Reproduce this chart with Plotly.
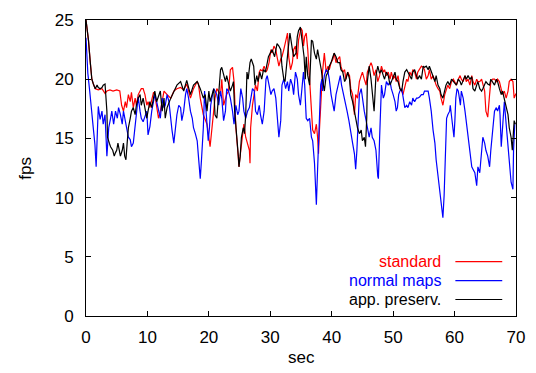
import plotly.graph_objects as go

# ---------------- data ----------------
t_standard = [
    0, 0.4, 0.7, 0.95, 1.2, 1.5, 2.0, 2.6, 3.1, 3.4,
    3.9, 4.4, 5.0, 5.5, 5.8, 6.1, 6.4, 6.6, 6.9, 7.2,
    7.4, 7.7, 8.0, 8.2, 8.5, 8.8, 9.0, 9.3, 9.6, 9.9,
    10.1, 10.4, 10.7, 11.0, 11.2, 11.5, 11.8, 12.1, 12.7, 13.2,
    13.8, 14.3, 14.8, 15.4, 15.9, 16.4, 17.0, 17.5, 18.1, 18.3,
    18.6, 19.1, 19.7, 20.2, 20.5, 20.8, 21.0, 21.3, 21.9, 22.1,
    22.4, 22.9, 23.2, 23.5, 23.85, 24.1, 24.2, 24.4, 24.7, 24.9,
    25.2, 25.5, 25.7, 26.0, 26.3, 26.6, 26.7, 26.8, 27.1, 27.4,
    27.6, 27.9, 28.2, 28.4, 28.7, 29.0, 29.3, 29.5, 29.8, 30.1,
    30.3, 30.6, 30.9, 31.1, 31.4, 31.7, 31.9, 32.2, 32.5, 32.8,
    33.0, 33.3, 33.6, 33.8, 34.1, 34.4, 34.6, 34.9, 35.0, 35.2,
    35.4, 35.6, 35.85, 36.1, 36.4, 36.7, 36.9, 37.2, 37.5, 37.7,
    37.85, 38.0, 38.3, 38.5, 38.8, 39.1, 39.4, 39.6, 39.9, 40.2,
    40.4, 40.7, 41.0, 41.3, 41.5, 41.8, 42.1, 42.3, 42.6, 42.9,
    43.1, 43.4, 43.7, 43.9, 44.2, 44.5, 44.8, 45.0, 45.3, 45.6,
    45.8, 46.1, 46.4, 46.6, 46.9, 47.2, 47.5, 47.8, 48.1, 48.4,
    48.6, 48.9, 49.2, 49.5, 49.7, 50.0, 50.3, 50.5, 50.8, 51.1,
    51.4, 51.6, 51.9, 52.2, 52.4, 52.7, 53.0, 53.2, 53.5, 53.8,
    54.0, 54.3, 54.6, 54.9, 55.1, 55.4, 55.7, 55.9, 56.2, 56.5,
    56.8, 57.0, 57.3, 57.6, 57.8, 58.1, 58.4, 58.6, 58.9, 59.2,
    59.5, 59.8, 60.05, 60.3, 60.6, 60.9, 61.1, 61.4, 61.7, 61.9,
    62.2, 62.5, 62.8, 63.0, 63.3, 63.6, 63.8, 64.1, 64.4, 64.6,
    64.9, 65.1, 65.4, 65.7, 65.9, 66.2, 66.5, 66.8, 67.0, 67.3,
    67.6, 67.8, 68.1, 68.4, 68.7, 68.9, 69.2, 69.5, 69.7, 70.0,
]
fps_standard = [
    25.0, 23.3, 21.4, 20.0, 19.6, 19.2, 19.1, 19.2, 18.8, 19.0,
    19.1, 19.0, 19.1, 19.0, 17.8, 17.3, 18.1, 17.6, 18.7, 18.1,
    18.9, 17.6, 18.4, 17.8, 18.7, 19.0, 19.2, 19.2, 18.7, 17.8,
    18.1, 17.6, 18.4, 18.9, 18.7, 17.8, 16.7, 17.3, 19.0, 18.7,
    18.4, 19.0, 19.2, 19.3, 19.1, 19.6, 18.4, 19.2, 19.8, 19.6,
    18.4, 17.0, 16.2, 14.3, 15.7, 17.3, 18.4, 19.2, 18.7, 20.0,
    17.8, 18.7, 19.0, 20.8, 21.0, 19.8, 18.4, 15.9, 14.0, 12.6,
    14.0, 15.7, 16.2, 15.1, 14.6, 14.0, 12.9, 15.9, 17.8, 18.7,
    19.5, 19.0, 20.6, 20.8, 20.7, 21.1, 20.6, 20.8, 21.4, 22.5,
    22.2, 22.8, 22.5, 21.9, 21.1, 21.7, 21.9, 22.5, 23.3, 23.9,
    21.9, 20.8, 21.4, 22.5, 22.8, 21.7, 23.3, 23.9, 24.3, 24.1,
    22.8, 23.6, 23.9, 22.5, 19.5, 17.6, 15.7, 15.4, 16.2, 15.1,
    13.7, 15.7, 18.7, 20.6, 22.2, 20.6, 21.1, 20.8, 21.4, 21.7,
    22.2, 21.4, 21.7, 21.9, 21.1, 20.6, 20.8, 20.0, 20.6, 20.3,
    19.2, 18.7, 17.0, 18.7, 18.4, 19.8, 20.3, 20.6, 20.0, 19.5,
    20.6, 21.1, 21.4, 21.1, 20.3, 20.8, 19.8, 20.3, 21.1, 20.6,
    20.8, 20.3, 20.6, 20.0, 20.6, 20.0, 20.3, 19.8, 20.3, 19.2,
    19.0, 18.7, 19.5, 20.0, 19.8, 20.6, 20.3, 20.8, 20.6, 20.0,
    20.6, 20.8, 21.1, 21.0, 20.8, 20.0, 20.3, 20.8, 20.0, 20.3,
    19.8, 19.5, 19.2, 19.0, 18.4, 17.8, 18.7, 19.0, 19.5, 19.2,
    19.8, 20.0, 19.8, 19.5, 20.0, 20.3, 20.0, 19.8, 20.3, 19.8,
    20.0, 19.5, 20.3, 19.8, 19.5, 20.0, 19.8, 19.8, 20.0, 19.5,
    19.0, 17.3, 16.8, 18.7, 19.8, 20.0, 20.0, 19.8, 20.0, 19.8,
    19.0, 18.7, 19.0, 18.4, 19.0, 19.8, 20.0, 19.8, 18.4, 18.8,
]

t_normal = [
    0, 0.3, 0.6, 0.9, 1.2, 1.45, 1.65, 1.85, 2.0, 2.3,
    2.6, 2.8, 3.1, 3.4, 3.7, 4.0, 4.2, 4.5, 4.8, 5.1,
    5.3, 5.6, 5.9, 6.1, 6.4, 6.6, 6.9, 7.2, 7.4, 7.7,
    8.0, 8.2, 8.5, 8.8, 9.0, 9.3, 9.6, 9.9, 10.1, 10.4,
    10.7, 11.0, 11.2, 11.5, 11.9, 12.1, 12.4, 12.7, 12.9, 13.2,
    13.5, 13.8, 14.0, 14.3, 14.6, 14.8, 15.1, 15.4, 15.6, 15.9,
    16.2, 16.4, 16.7, 17.0, 17.3, 17.5, 17.8, 18.1, 18.3, 18.6,
    18.8, 19.1, 19.3, 19.5, 19.7, 19.9, 20.1, 20.3, 20.6, 20.8,
    21.0, 21.3, 21.6, 21.9, 22.1, 22.4, 22.7, 22.9, 23.2, 23.5,
    23.85, 24.1, 24.4, 24.7, 24.9, 25.2, 25.5, 25.7, 26.0, 26.3,
    26.6, 26.8, 27.1, 27.4, 27.6, 27.9, 28.2, 28.4, 28.7, 29.0,
    29.3, 29.5, 29.8, 30.1, 30.3, 30.6, 30.9, 31.1, 31.4, 31.7,
    31.9, 32.2, 32.5, 32.8, 33.0, 33.3, 33.6, 33.8, 34.1, 34.4,
    34.6, 34.9, 35.2, 35.4, 35.6, 35.85, 36.1, 36.4, 36.7, 36.9,
    37.2, 37.35, 37.5, 37.7, 38.0, 38.2, 38.4, 38.5, 38.8, 39.1,
    39.4, 39.6, 39.9, 40.2, 40.4, 40.7, 41.0, 41.3, 41.4, 41.6,
    42.0, 42.2, 42.5, 42.8, 43.1, 43.4, 43.7, 43.9, 44.1, 44.3,
    44.5, 44.8, 45.0, 45.3, 45.6, 45.8, 46.1, 46.4, 46.6, 46.9,
    47.2, 47.5, 47.6, 47.8, 48.0, 48.1, 48.4, 48.6, 48.9, 49.2,
    49.5, 49.7, 50.0, 50.3, 50.5, 50.7, 50.9, 51.1, 51.4, 51.6,
    51.9, 52.2, 52.4, 52.7, 53.0, 53.2, 53.5, 53.8, 54.0, 54.3,
    54.6, 54.9, 55.1, 55.4, 55.7, 55.9, 56.2, 56.5, 56.8, 57.0,
    57.3, 57.6, 57.8, 58.1, 58.3, 58.5, 58.7, 58.9, 59.2, 59.3,
    59.6, 59.8, 59.9, 60.05, 60.2, 60.4, 60.6, 60.7, 60.95, 61.1,
    61.4, 61.7, 61.9, 62.2, 62.5, 62.8, 63.0, 63.3, 63.6, 63.8,
    64.1, 64.4, 64.6, 64.9, 65.1, 65.4, 65.7, 65.9, 66.2, 66.5,
    66.8, 67.0, 67.3, 67.4, 67.6, 67.8, 68.0, 68.1, 68.4, 68.7,
    68.9, 69.2, 69.5, 69.6, 69.8,
]
fps_normal = [
    23.5, 20.5, 19.0, 17.0, 15.8, 14.5, 12.6, 15.5, 17.7, 16.6,
    17.3, 16.2, 17.0, 13.5, 15.9, 16.7, 17.3, 16.2, 17.3, 16.7,
    17.6, 17.0, 16.2, 17.3, 16.5, 15.7, 15.1, 14.9, 14.3, 14.6,
    16.1, 17.3, 18.5, 17.3, 16.7, 16.4, 16.9, 17.3, 15.3, 16.0,
    17.3, 18.4, 18.7, 18.1, 17.3, 16.7, 18.4, 17.6, 17.8, 18.7,
    18.1, 16.2, 15.7, 14.6, 16.5, 17.0, 17.8, 17.6, 16.5, 17.3,
    18.7, 19.2, 18.4, 17.3, 16.7, 15.9, 15.4, 14.8, 13.5, 11.6,
    13.2, 15.9, 19.0, 17.3, 15.7, 14.8, 15.9, 17.8, 18.7, 19.2,
    19.0, 18.7, 17.8, 19.0, 18.4, 16.5, 17.3, 19.2, 19.0, 18.4,
    17.3, 16.2, 17.8, 17.0, 17.3, 19.2, 18.4, 17.3, 16.7, 17.3,
    17.6, 18.4, 19.2, 19.0, 17.3, 17.0, 17.8, 17.0, 16.2, 17.3,
    20.0, 20.3, 19.5, 18.7, 19.0, 19.2, 18.4, 17.3, 15.1, 16.5,
    19.5, 20.0, 19.2, 19.8, 19.0, 20.0, 19.5, 18.7, 20.6, 20.0,
    18.7, 17.8, 19.5, 20.6, 19.5, 16.7, 16.5, 16.7, 15.1, 14.8,
    12.9, 10.5, 9.4, 12.4, 15.9, 19.5, 20.0, 19.0, 20.3, 20.8,
    20.6, 20.0, 18.7, 17.6, 17.3, 18.7, 19.5, 20.0, 20.3, 19.5,
    18.4, 17.8, 17.3, 16.5, 15.7, 14.6, 13.7, 12.4, 14.0, 17.3,
    18.7, 19.2, 18.4, 17.3, 16.5, 15.9, 15.1, 15.9, 15.1, 14.8,
    14.0, 11.8, 11.6, 15.1, 18.7, 19.5, 18.4, 18.7, 19.8, 19.5,
    19.8, 19.2, 18.7, 18.1, 17.3, 17.6, 18.7, 19.0, 19.2, 18.4,
    17.6, 17.8, 17.6, 18.1, 17.8, 18.4, 18.1, 18.4, 18.4, 18.5,
    18.7, 18.7, 19.0, 19.0, 19.0, 18.4, 17.3, 15.7, 14.6, 13.2,
    11.8, 10.2, 9.6, 8.3, 10.2, 13.2, 16.7, 17.0, 17.3, 17.8,
    16.2, 15.4, 15.1, 16.5, 18.4, 19.2, 19.0, 18.7, 17.8, 19.0,
    18.4, 17.3, 16.5, 15.1, 14.0, 12.6, 12.4, 12.1, 11.0, 12.6,
    12.1, 13.7, 15.1, 14.6, 14.0, 13.5, 12.6, 14.0, 15.9, 17.3,
    17.6, 17.3, 17.8, 17.0, 14.3, 15.7, 17.3, 18.1, 16.2, 14.6,
    12.9, 11.3, 10.7, 14.0, 16.2,
]

t_app = [
    0, 0.4, 0.7, 0.95, 1.2, 1.5, 1.8, 2.0, 2.3, 2.6,
    2.8, 3.1, 3.4, 3.5, 3.8, 4.0, 4.35, 4.6, 4.8, 5.0,
    5.2, 5.4, 5.6, 5.9, 6.1, 6.3, 6.5, 6.7, 6.9, 7.2,
    7.4, 7.7, 8.0, 8.2, 8.5, 8.8, 9.0, 9.3, 9.6, 9.9,
    10.1, 10.4, 10.7, 11.0, 11.2, 11.5, 11.9, 12.1, 12.4, 12.7,
    12.9, 13.2, 13.8, 14.3, 14.8, 15.4, 15.9, 16.4, 17.0, 17.5,
    18.1, 18.6, 19.1, 19.4, 19.7, 20.0, 20.2, 20.8, 21.0, 21.3,
    21.9, 22.1, 22.4, 22.7, 22.9, 23.5, 23.85, 24.0, 24.2, 24.6,
    24.8, 24.9, 25.1, 25.3, 25.6, 25.8, 26.0, 26.2, 26.4, 26.7,
    26.9, 27.3, 27.5, 27.8, 28.0, 28.3, 28.6, 28.9, 29.2, 29.4,
    29.7, 30.0, 30.3, 30.7, 31.1, 31.4, 31.7, 31.9, 32.2, 32.4,
    32.6, 32.9, 33.2, 33.4, 33.6, 33.8, 34.2, 34.4, 34.6, 34.9,
    35.2, 35.5, 35.7, 35.85, 36.1, 36.4, 36.7, 36.9, 37.2, 37.5,
    37.7, 38.0, 38.3, 38.5, 38.8, 39.1, 39.4, 39.6, 39.9, 40.2,
    40.4, 40.7, 41.0, 41.3, 41.5, 41.8, 42.1, 42.3, 42.6, 42.9,
    43.1, 43.4, 43.7, 43.9, 44.2, 44.5, 44.8, 45.0, 45.3, 45.5,
    45.7, 45.8, 46.1, 46.4, 46.6, 46.9, 47.2, 47.5, 47.8, 48.1,
    48.4, 48.6, 48.9, 49.2, 49.5, 49.7, 50.0, 50.3, 50.5, 50.8,
    51.1, 51.4, 51.6, 51.9, 52.2, 52.4, 52.7, 53.0, 53.2, 53.5,
    53.8, 54.0, 54.3, 54.6, 54.9, 55.1, 55.4, 55.7, 55.9, 56.2,
    56.5, 56.8, 57.0, 57.3, 57.6, 57.8, 58.1, 58.4, 58.6, 58.9,
    59.2, 59.5, 59.8, 60.05, 60.3, 60.6, 60.9, 61.1, 61.4, 61.7,
    61.9, 62.2, 62.5, 62.8, 63.0, 63.3, 63.6, 63.8, 64.1, 64.4,
    64.6, 64.9, 65.1, 65.4, 65.7, 65.9, 66.2, 66.5, 66.8, 67.0,
    67.3, 67.6, 67.8, 68.1, 68.4, 68.7, 68.9, 69.2, 69.4, 69.6,
    69.7, 69.9,
]
fps_app = [
    25.0, 23.3, 21.4, 20.0, 19.6, 19.2, 19.5, 19.3, 19.2, 19.3,
    19.5, 19.6, 17.3, 15.1, 14.6, 14.3, 14.0, 13.5, 13.8, 14.0,
    14.6, 14.0, 13.5, 14.0, 14.6, 13.5, 13.2, 14.6, 15.9, 16.7,
    17.3, 17.6, 17.0, 17.8, 18.4, 18.7, 17.8, 18.4, 17.6, 16.7,
    17.3, 18.1, 17.6, 18.7, 19.0, 18.1, 18.7, 19.0, 17.3, 18.4,
    16.7, 17.6, 18.4, 19.0, 19.5, 19.8, 19.0, 19.9, 18.7, 19.5,
    19.8, 19.2, 18.4, 18.7, 17.3, 19.0, 18.1, 19.2, 17.0, 16.7,
    20.8, 21.0, 20.3, 19.8, 20.3, 19.0, 19.5, 19.8, 17.3, 15.1,
    13.5, 12.6, 13.5, 15.1, 15.9, 15.4, 17.0, 20.6, 20.0, 21.4,
    21.7, 21.1, 19.5, 20.3, 19.8, 20.6, 20.0, 20.8, 20.6, 21.1,
    21.9, 22.2, 22.5, 21.9, 23.0, 22.8, 22.5, 21.1, 20.0, 19.8,
    21.1, 22.5, 23.9, 23.0, 22.5, 21.9, 22.2, 23.6, 24.1, 24.4,
    23.3, 21.9, 20.0, 21.9, 20.3, 19.5, 23.3, 23.2, 22.2, 21.7,
    22.5, 21.7, 20.8, 20.0, 19.0, 20.3, 20.6, 21.1, 21.4, 21.9,
    22.2, 21.9, 21.4, 21.4, 20.8, 20.6, 19.8, 20.0, 20.6, 20.0,
    18.7, 18.1, 17.3, 16.5, 15.9, 15.4, 15.7, 14.8, 15.1, 14.3,
    16.7, 19.8, 21.1, 20.0, 19.0, 17.3, 20.3, 21.1, 20.5, 20.8,
    20.3, 20.0, 20.6, 20.3, 19.5, 19.8, 20.3, 20.6, 20.0, 19.8,
    19.2, 19.0, 19.8, 20.6, 20.8, 20.6, 20.3, 20.0, 20.6, 20.8,
    20.3, 20.0, 20.3, 20.0, 21.1, 21.0, 21.1, 20.8, 21.1, 20.6,
    20.3, 19.8, 20.3, 19.5, 19.2, 18.7, 18.4, 19.0, 19.5, 19.8,
    19.5, 20.0, 19.8, 19.6, 19.5, 20.0, 19.8, 19.5, 20.0, 20.3,
    20.0, 20.3, 20.0, 20.2, 19.2, 19.0, 19.5, 19.8, 19.2, 19.0,
    19.2, 19.5, 19.8, 19.6, 19.5, 20.0, 19.8, 19.5, 20.0, 19.8,
    19.2, 18.7, 19.0, 18.4, 17.8, 17.0, 15.9, 15.1, 14.0, 15.7,
    16.5, 16.2,
]

series_names = ["standard", "normal maps", "app. preserv."]
series_colors = ["#ff0000", "#0000ff", "#000000"]
series_t = [t_standard, t_normal, t_app]
series_fps = [fps_standard, fps_normal, fps_app]

x_ticks = [0, 10, 20, 30, 40, 50, 60, 70]
y_ticks = [0, 5, 10, 15, 20, 25]

FONT = "Liberation Sans, Arial, Helvetica, sans-serif"
FS = 17
FS_KEY = 16

fig = go.Figure()
for name, col, tt, vv in zip(series_names, series_colors, series_t, series_fps):
    fig.add_trace(go.Scatter(x=tt, y=vv, mode="lines", name=name,
                             line=dict(color=col, width=1.2), showlegend=False))

axis_common = dict(showline=True, linecolor="black", linewidth=1, mirror="allticks",
                   ticks="inside", ticklen=5, tickwidth=1, tickcolor="black",
                   showgrid=False, zeroline=False,
                   tickfont=dict(family=FONT, size=FS, color="black"))

fig.update_xaxes(range=[0, 70], tickvals=x_ticks, ticklabelstandoff=6, **axis_common)
fig.update_yaxes(range=[0, 25], tickvals=y_ticks, ticklabelstandoff=8, **axis_common)

# gnuplot-style key: text right-aligned, line sample to its right
key_text_x = 0.831
key_line_x0, key_line_x1 = 0.859, 0.968
key_rows_y = [0.1836, 0.1197, 0.0557]
annotations = []
shapes = []
for name, col, yy in zip(series_names, series_colors, key_rows_y):
    annotations.append(dict(x=key_text_x, y=yy, xref="paper", yref="paper",
                            text=name, showarrow=False, xanchor="right", yanchor="middle",
                            font=dict(family=FONT, size=FS_KEY, color=col)))
    shapes.append(dict(type="line", xref="paper", yref="paper",
                       x0=key_line_x0, x1=key_line_x1, y0=yy, y1=yy,
                       line=dict(color=col, width=1.2)))

annotations.append(dict(x=0.5, y=-0.141, xref="paper", yref="paper", text="sec",
                        showarrow=False, xanchor="center", yanchor="middle",
                        font=dict(family=FONT, size=FS, color="black")))
annotations.append(dict(x=-0.1424, y=0.5, xref="paper", yref="paper", text="fps",
                        showarrow=False, xanchor="center", yanchor="middle", textangle=-90,
                        font=dict(family=FONT, size=FS, color="black")))

fig.update_layout(width=536, height=373,
                  margin=dict(l=86, r=18, t=11, b=57),
                  paper_bgcolor="white", plot_bgcolor="white",
                  annotations=annotations, shapes=shapes,
                  font=dict(family=FONT, size=FS, color="black"))

fig.write_html("out.html")
